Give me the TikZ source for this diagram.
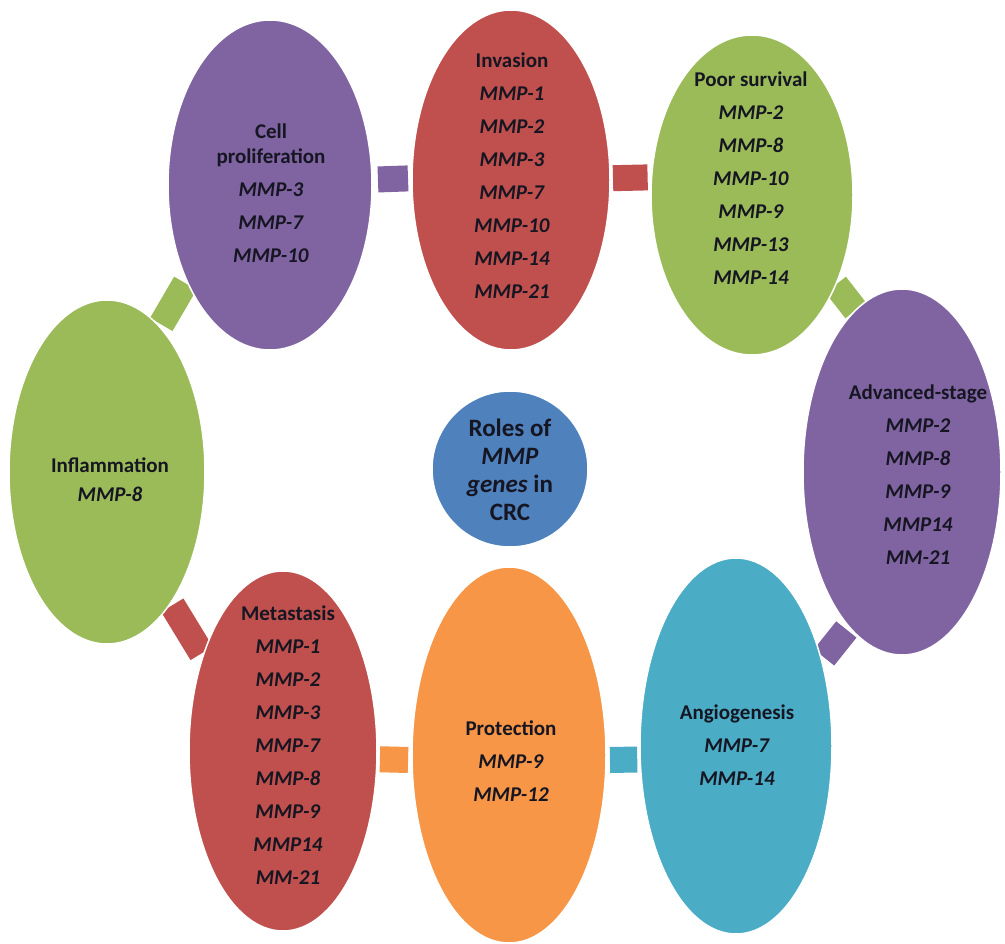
\documentclass[tikz,border=0pt]{standalone}
\usepackage{fontspec}
\setmainfont{Carlito}
\usetikzlibrary{shapes.geometric}
\definecolor{cpurple}{HTML}{8064A2}
\definecolor{cred}{HTML}{C0504D}
\definecolor{cgreen}{HTML}{9BBB59}
\definecolor{cteal}{HTML}{4BACC6}
\definecolor{corange}{HTML}{F79646}
\definecolor{cblue}{HTML}{4F81BD}
\definecolor{ctext}{HTML}{161622}
\pgfdeclarelayer{bg}
\pgfsetlayers{bg,main}
\begin{document}
\begin{tikzpicture}[x=1pt,y=-1pt,
  oval/.style={ellipse, inner sep=0pt, outer sep=0pt, draw=white, line width=1.5pt},
  lbl/.style={align=center, font=\fontsize{21}{33}\selectfont\bfseries, text=ctext, inner sep=0pt},
  bar/.style={line width=26pt},
]
% ellipses
\node[oval, fill=cpurple, minimum width=204pt, minimum height=330pt] (A) at (270,185) {};
\node[oval, fill=cred,    minimum width=198pt, minimum height=340pt] (B) at (511,180) {};
\node[oval, fill=cgreen,  minimum width=202pt, minimum height=320pt] (C) at (752,195) {};
\node[oval, fill=cpurple, minimum width=198pt, minimum height=366pt] (D) at (902,472) {};
\node[oval, fill=cteal,   minimum width=192pt, minimum height=376pt] (E) at (736,746) {};
\node[oval, fill=corange, minimum width=194pt, minimum height=376pt] (F) at (509,755) {};
\node[oval, fill=cred,    minimum width=188pt, minimum height=360pt] (G) at (283,751) {};
\node[oval, fill=cgreen,  minimum width=196pt, minimum height=344pt] (H) at (107,472) {};
\node[circle, fill=cblue, draw=white, line width=1.5pt, minimum size=156pt, inner sep=0pt] (M) at (510,469) {};

% connectors
\begin{pgfonlayer}{bg}
\fill[white] (0,0) rectangle (1005,943);
\draw[bar, cpurple, shorten <=6pt, shorten >=4pt] (A.3) -- (B.179);
\draw[bar, cred, shorten <=3pt, shorten >=4pt] (B.1) -- (C.170);
\draw[bar, cgreen] (C.-47) -- (D.106);
\draw[bar, cpurple, shorten <=4pt, shorten >=4pt] (D.251) -- (E.45);
\draw[bar, cteal, shorten <=3pt, shorten >=4pt] (E.188) -- (F.-3);
\draw[bar, corange, shorten <=4pt, shorten >=3pt] (F.183) -- (G.-5);
\draw[bar, cred, shorten <=3pt, shorten >=3pt] (G.130) -- (H.-64);
\draw[bar, cgreen, shorten <=3pt, shorten >=3pt] (H.70) -- (A.229);
\end{pgfonlayer}

% texts
\node[lbl] (tA) at (271,193) {Cell\\[-8pt]proliferation\\\textit{MMP-3}\\\textit{MMP-7}\\\textit{MMP-10}};
\node[lbl] (tB) at (512,176) {Invasion\\\textit{MMP-1}\\\textit{MMP-2}\\\textit{MMP-3}\\\textit{MMP-7}\\\textit{MMP-10}\\\textit{MMP-14}\\\textit{MMP-21}};
\node[lbl] (tC) at (751,178) {Poor survival\\\textit{MMP-2}\\\textit{MMP-8}\\\textit{MMP-10}\\\textit{MMP-9}\\\textit{MMP-13}\\\textit{MMP-14}};
\node[lbl] (tD) at (918,475) {Advanced-stage\\\textit{MMP-2}\\\textit{MMP-8}\\\textit{MMP-9}\\\textit{MMP14}\\\textit{MM-21}};
\node[lbl] (tE) at (737,745) {Angiogenesis\\\textit{MMP-7}\\\textit{MMP-14}};
\node[lbl] (tF) at (511,761) {Protection\\\textit{MMP-9}\\\textit{MMP-12}};
\node[lbl] (tG) at (288,745) {Metastasis\\\textit{MMP-1}\\\textit{MMP-2}\\\textit{MMP-3}\\\textit{MMP-7}\\\textit{MMP-8}\\\textit{MMP-9}\\\textit{MMP14}\\\textit{MM-21}};
\node[lbl] (tH) at (110,480) {Inflammation\\[-4pt]\textit{MMP-8}};
\node[align=center, font=\fontsize{25}{28}\selectfont\bfseries, text=ctext, inner sep=0pt] (tM) at (510,470) {Roles of\\\textit{MMP}\\\textit{genes} in\\CRC};
\end{tikzpicture}
\end{document}
